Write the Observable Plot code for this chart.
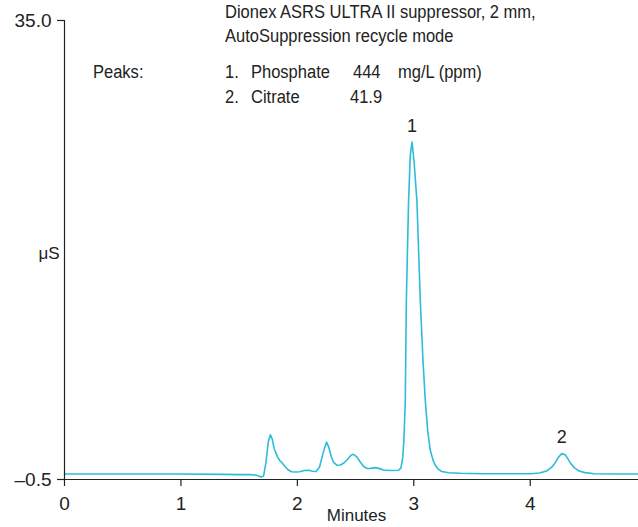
<!DOCTYPE html>
<html><head><meta charset="utf-8">
<script src="https://cdn.jsdelivr.net/npm/d3@7"></script>
<script src="https://cdn.jsdelivr.net/npm/@observablehq/plot@0.6"></script>
<style>
body{margin:0;background:#fff;}
#wrap{position:relative;width:638px;height:527px;font-family:"Liberation Sans",Arial,sans-serif;color:#222;}
.t{position:absolute;font-size:18px;line-height:20px;white-space:nowrap;transform:scaleX(0.917);transform-origin:0 0;}
svg{position:absolute;left:0;top:0;}
</style></head><body><div id="wrap"></div>
<script>
// chromatogram (time in minutes, conductivity in µS)
const times = [0.00,0.50,1.00,1.35,1.50,1.60,1.65,1.69,1.71,1.73,1.75,1.768,1.785,1.80,1.83,1.85,1.87,1.89,1.92,1.95,1.98,2.02,2.06,2.10,2.13,2.16,2.19,2.22,2.25,2.27,2.29,2.31,2.34,2.37,2.40,2.43,2.46,2.483,2.51,2.54,2.57,2.60,2.63,2.67,2.70,2.74,2.80,2.87,2.89,2.905,2.915,2.927,2.936,2.955,2.97,2.985,3.004,3.027,3.056,3.08,3.099,3.12,3.142,3.165,3.185,3.21,3.24,3.30,3.40,3.60,3.80,4.00,4.08,4.14,4.19,4.215,4.24,4.27,4.30,4.32,4.343,4.38,4.42,4.47,4.55,4.70,4.93];
const signal = [-0.08,-0.08,-0.08,-0.10,-0.12,-0.12,-0.18,-0.30,-0.22,0.8,2.4,2.96,2.6,1.9,1.25,0.95,0.78,0.55,0.25,0.10,0.08,0.10,0.20,0.22,0.14,0.12,0.45,1.5,2.39,2.0,1.3,0.85,0.60,0.62,0.78,1.05,1.38,1.45,1.25,0.85,0.50,0.35,0.36,0.42,0.36,0.24,0.20,0.22,0.40,1.2,2.5,5.6,13.3,21.0,24.6,25.6,23.9,21.0,13.3,8.5,5.6,3.2,1.76,1.0,0.6,0.3,0.12,0.02,-0.02,-0.05,-0.06,-0.05,0.0,0.15,0.5,0.8,1.2,1.5,1.42,1.15,0.8,0.4,0.15,0.03,-0.05,-0.07,-0.07];

const xTicks = [0,1,2,3,4];
const yTicks = [-0.5,35];
const yTickLabels = ["–0.5","35.0"];

const peakNumbers = ["1","2"];
const peakTimes = [2.985,4.27];
const peakHeights = [25.6,1.5];
const peakNames = ["Phosphate","Citrate"];
const peakAmounts = ["444","41.9"];
const amountUnit = "mg/L (ppm)";
const titleLines = ["Dionex ASRS ULTRA II suppressor, 2 mm,","AutoSuppression recycle mode"];

const data = times.map((t,i)=>({t, v: signal[i]}));
const peaks = peakNumbers.map((n,i)=>({n, t: peakTimes[i], v: peakHeights[i]}));

const chart = Plot.plot({
  width:638, height:527,
  marginLeft:64, marginRight:0, marginTop:20, marginBottom:48,
  style:{fontFamily:"'Liberation Sans',Arial,sans-serif", fontSize:"19px", color:"#222", background:"transparent", overflow:"visible"},
  x:{domain:[0,4.93]},
  y:{domain:[-0.5,35]},
  marks:[
    Plot.line(data,{x:"t", y:"v", stroke:"#2bbcdc", strokeWidth:1.6}),
    Plot.ruleY([-0.5],{stroke:"#222", strokeWidth:1.2}),
    Plot.ruleX([0],{stroke:"#222", strokeWidth:1.2}),
    Plot.axisX({ticks:xTicks, tickSize:7, tickPadding:10, tickFormat:d=>String(d), label:null, strokeWidth:1.2, fontSize:19}),
    Plot.axisY({ticks:yTicks, tickSize:7, tickPadding:6, tickFormat:d=>yTickLabels[yTicks.indexOf(d)], label:null, strokeWidth:1.2, fontSize:19}),
    Plot.text(peaks,{x:"t", y:"v", text:"n", dy:-16, lineAnchor:"middle", fontSize:18}),
    Plot.text(["μS"],{text:d=>d, frameAnchor:"left", dx:-26, dy:4, fontSize:17}),
    Plot.text(["Minutes"],{text:d=>d, frameAnchor:"bottom", dx:5, dy:41, fontSize:17})
  ]
});
const wrap = document.getElementById("wrap");
wrap.appendChild(chart);

function addText(str, left, top){
  const s = document.createElement("div");
  s.className = "t"; s.textContent = str;
  s.style.left = left+"px"; s.style.top = top+"px";
  wrap.appendChild(s);
}
addText(titleLines[0], 225, 2);
addText(titleLines[1], 225, 26);
addText("Peaks:", 93, 62);
peakNames.forEach((name,i)=>{
  const top = 62 + i*25;
  addText((i+1)+".", 225, top);
  addText(name, 251, top);
  addText(peakAmounts[i], i===0 ? 353 : 350, top);
});
addText(amountUnit, 398, 62);
</script>
</body></html>
